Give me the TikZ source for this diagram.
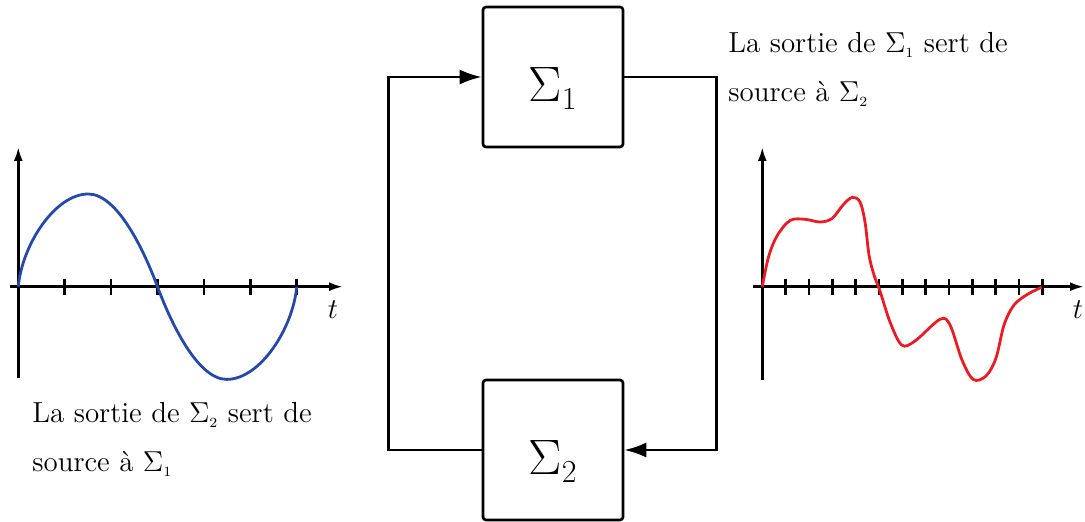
\documentclass[tikz,border=0pt]{standalone}
\usepackage{fontspec}
\usetikzlibrary{arrows.meta}
\definecolor{curveblue}{RGB}{38,72,168}
\definecolor{curvered}{RGB}{232,28,36}
\tikzset{
  sysbox/.style={draw, line width=1.3pt, rounded corners=1.5pt, minimum width=70pt, minimum height=70pt, inner sep=0pt},
  looparrow/.style={line width=1.3pt, -{Latex[length=11pt,width=7.5pt]}},
  axisline/.style={line width=1.3pt, -{Latex[length=7pt,width=4.5pt]}},
  tickline/.style={line width=1.3pt},
  sigmalabel/.style={anchor=base, inner sep=0pt, font=\fontsize{28.5}{30}\selectfont},
  caption/.style={anchor=base west, inner sep=0pt, font=\fontsize{14.5}{17}\selectfont},
  tlabel/.style={inner sep=0pt, font=\fontsize{14.5}{17}\selectfont},
  curve/.style={line width=1.4pt}
}
\begin{document}
\begin{tikzpicture}[x=0.5pt,y=-0.5pt]
\useasboundingbox (0,0) rectangle (1085,522);

% system boxes
\node[sysbox] (s1) at (553,77) {};
\node[sysbox] (s2) at (553,450) {};
\node[sigmalabel] (s1t) at (553,102) {$\Sigma_{\mbox{\fontsize{16}{16}\selectfont 1}}$};
\node[sigmalabel] (s2t) at (553,475) {$\Sigma_{\mbox{\fontsize{16}{16}\selectfont 2}}$};

% loop connectors
\draw[looparrow] (s2.west) -- ++(-93,0) |- (s1.west);
\draw[looparrow] (s1.east) -- ++(92,0) |- (s2.east);

% captions
\node[caption] (c1a) at (728,53) {La sortie de $\Sigma_{\scriptscriptstyle 1}$ sert de};
\node[caption] (c1b) at (728,102) {source à $\Sigma_{\scriptscriptstyle 2}$};
\node[caption] (c2a) at (32,423) {La sortie de $\Sigma_{\scriptscriptstyle 2}$ sert de};
\node[caption] (c2b) at (32,472) {source à $\Sigma_{\scriptscriptstyle 1}$};

% left plot
\draw[axisline] (10,286.7) -- (343,286.7);
\draw[axisline] (18.3,378) -- (18.3,147);
\foreach \k in {1,...,6} \draw[tickline] ({18.3+46.4*\k},278.7) -- ++(0,16);
\node[tlabel] (tl) at (333,310) {$t$};
\draw[curve, curveblue]
  (18.3,286.7) .. controls (22,245) and (55,194) .. (88.3,194)
  .. controls (118,194) and (145,253) .. (157.5,286.7)
  .. controls (170,320.4) and (197,379.4) .. (226.7,379.4)
  .. controls (260,379.4) and (293,328.4) .. (296.7,286.7);

% right plot
\draw[axisline] (753,286.7) -- (1084,286.7);
\draw[axisline] (762.3,380) -- (762.3,147);
\foreach \k in {1,...,12} \draw[tickline] ({762.3+23.33*\k},278.7) -- ++(0,16);
\node[tlabel] (tr) at (1078,310) {$t$};
\draw[curve, curvered] plot[smooth, tension=0.55] coordinates {
  (762.3,286.7) (768.5,257) (777,236) (790,220.5) (805,219.3) (820,222)
  (832,218.5) (843,205) (852.3,197.3) (860,202) (865,222) (869,255)
  (874,275) (880,291) (890,322) (901.7,345) (915,341) (940,319.3)
  (950,325) (962,360) (973.3,379.5) (986,376) (996,358) (1004,325)
  (1014,305) (1028,294) (1041.7,287.3)};
\end{tikzpicture}
\end{document}
